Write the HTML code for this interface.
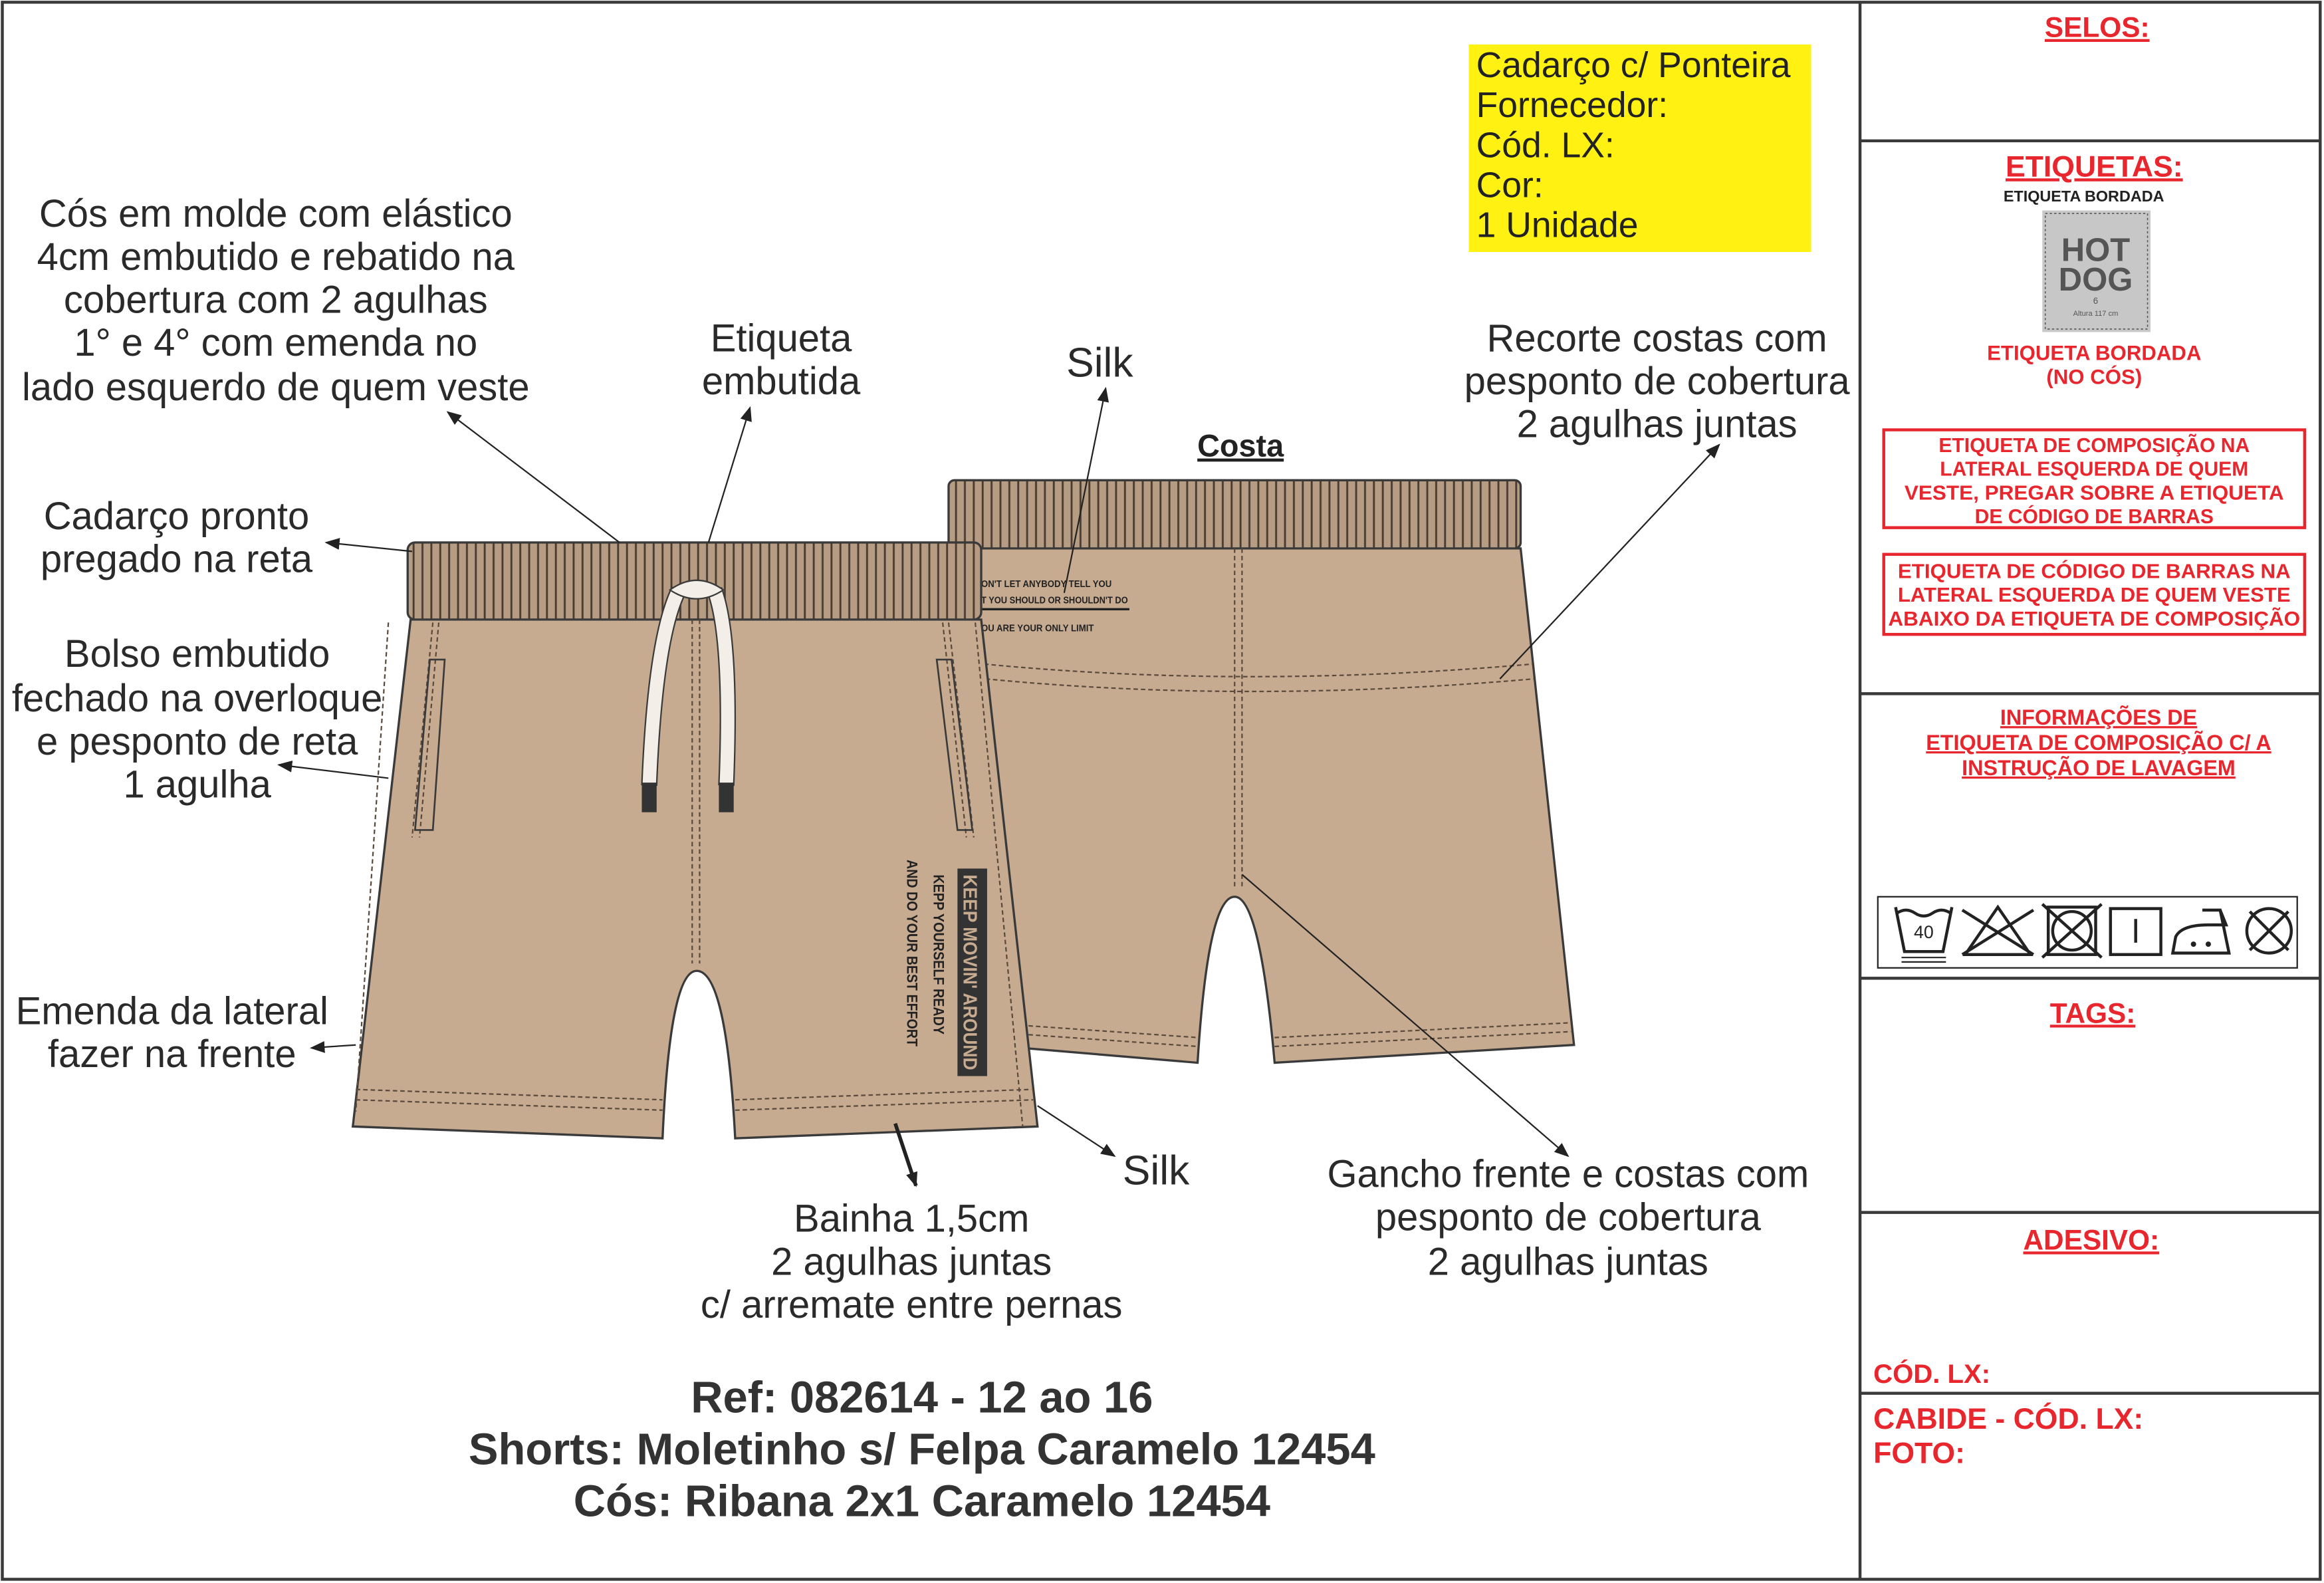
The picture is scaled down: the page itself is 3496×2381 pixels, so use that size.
<!DOCTYPE html>
<html><head><meta charset="utf-8"><style>
html,body{margin:0;padding:0;background:#fff;}
svg{display:block;}
text{font-family:"Liberation Sans",sans-serif;}
.t{font-size:26px;fill:#2a2a2a;text-anchor:middle;}
.r{fill:#e8262d;font-weight:bold;text-anchor:middle;}
.rb{fill:#e8262d;font-weight:bold;}
</style></head><body>
<svg width="3496" height="2381" viewBox="0 0 1568 1068" xmlns="http://www.w3.org/2000/svg">
<defs>
<marker id="a" markerWidth="10" markerHeight="10" refX="9" refY="5" orient="auto" markerUnits="userSpaceOnUse"><path d="M0,1 L10,5 L0,9 Z" fill="#222"/></marker>
<pattern id="rib" width="6" height="60" patternUnits="userSpaceOnUse"><rect width="6" height="60" fill="#b59c83"/><line x1="3" y1="0" x2="3" y2="60" stroke="#4a3c30" stroke-width="1.3"/></pattern>
</defs>
<rect x="0" y="0" width="1568" height="1068" fill="#fff"/>
<rect x="1.5" y="1.5" width="1564" height="1064" fill="none" stroke="#3a3a3a" stroke-width="2"/>
<line x1="1255" y1="1" x2="1255" y2="1066" stroke="#3a3a3a" stroke-width="2"/>
<g stroke="#3a3a3a" stroke-width="2">
<line x1="1255" y1="95" x2="1566" y2="95"/><line x1="1255" y1="468" x2="1566" y2="468"/>
<line x1="1255" y1="660" x2="1566" y2="660"/><line x1="1255" y1="818" x2="1566" y2="818"/>
<line x1="1255" y1="940" x2="1566" y2="940"/></g>

<!-- right panel -->
<text x="1415" y="25" class="r" font-size="19" text-decoration="underline">SELOS:</text>
<text x="1413" y="119" class="r" font-size="20" text-decoration="underline">ETIQUETAS:</text>
<text x="1406" y="136" font-size="10.5" fill="#222" text-anchor="middle" font-weight="bold">ETIQUETA BORDADA</text>
<rect x="1378" y="142" width="73" height="82" fill="#c7c7c7"/>
<rect x="1380" y="144" width="69" height="78" fill="none" stroke="#555" stroke-dasharray="1.5,1.5" stroke-width="0.7"/>
<text x="1414" y="176" font-size="22" font-weight="bold" fill="#555" text-anchor="middle" font-family="Liberation Serif">HOT</text>
<text x="1414" y="196" font-size="22" font-weight="bold" fill="#555" text-anchor="middle" font-family="Liberation Serif">DOG</text>
<text x="1414" y="205" font-size="6" fill="#555" text-anchor="middle">6</text>
<text x="1414" y="213" font-size="5" fill="#555" text-anchor="middle">Altura 117 cm</text>
<text x="1413" y="243" class="r" font-size="14">ETIQUETA BORDADA</text>
<text x="1413" y="259" class="r" font-size="14">(NO CÓS)</text>
<rect x="1271" y="290" width="284" height="66" fill="none" stroke="#e8262d" stroke-width="2"/>
<g class="r" font-size="13.5"><text x="1413" y="305">ETIQUETA DE COMPOSIÇÃO NA</text><text x="1413" y="321">LATERAL ESQUERDA DE QUEM</text><text x="1413" y="337" textLength="256" lengthAdjust="spacingAndGlyphs">VESTE, PREGAR SOBRE A ETIQUETA</text><text x="1413" y="353">DE CÓDIGO DE BARRAS</text></g>
<rect x="1271" y="374" width="284" height="54" fill="none" stroke="#e8262d" stroke-width="2"/>
<g class="r" font-size="13.5"><text x="1413" y="390" textLength="265" lengthAdjust="spacingAndGlyphs">ETIQUETA DE CÓDIGO DE BARRAS NA</text><text x="1413" y="406" textLength="265" lengthAdjust="spacingAndGlyphs">LATERAL ESQUERDA DE QUEM VESTE</text><text x="1413" y="422" textLength="278" lengthAdjust="spacingAndGlyphs">ABAIXO DA ETIQUETA DE COMPOSIÇÃO</text></g>
<g class="r" font-size="14.5" text-decoration="underline"><text x="1416" y="489">INFORMAÇÕES DE</text><text x="1416" y="506">ETIQUETA DE COMPOSIÇÃO C/ A</text><text x="1416" y="523">INSTRUÇÃO DE LAVAGEM</text></g>
<rect x="1267" y="605" width="283" height="48" fill="none" stroke="#222" stroke-width="1"/>
<g stroke="#222" stroke-width="2" fill="none">
<path d="M1279,612 L1285,642 L1311,642 L1317,612"/><path d="M1280,616 q6,-4 12,0 q6,4 12,0 q6,-4 12,0"/><text x="1298" y="633" font-size="12" fill="#222" stroke="none" text-anchor="middle">40</text>
<line x1="1283" y1="646" x2="1313" y2="646" stroke-width="1"/><line x1="1283" y1="649" x2="1313" y2="649" stroke-width="1"/>
<path d="M1326,644 L1348,612 L1370,644 Z"/><line x1="1324" y1="614" x2="1372" y2="644"/><line x1="1324" y1="644" x2="1372" y2="614"/>
<rect x="1382" y="612" width="32" height="32"/><circle cx="1398" cy="628" r="13"/><line x1="1378" y1="610" x2="1418" y2="646"/><line x1="1378" y1="646" x2="1418" y2="610"/>
<rect x="1424" y="613" width="34" height="31"/><line x1="1441" y1="620" x2="1441" y2="636"/>
<path d="M1466,643 L1468,632 Q1472,624 1490,624 L1502,624 L1498,614 L1486,614 L1498,614 L1504,643 Z"/>
<circle cx="1531" cy="628" r="15"/><line x1="1518" y1="615" x2="1544" y2="641"/><line x1="1518" y1="641" x2="1544" y2="615"/>
</g>
<circle cx="1480" cy="637" r="1.8" fill="#222"/><circle cx="1490" cy="637" r="1.8" fill="#222"/>
<text x="1412" y="690" class="r" font-size="19" text-decoration="underline">TAGS:</text>
<text x="1411" y="843" class="r" font-size="19" text-decoration="underline">ADESIVO:</text>
<text x="1264" y="933" class="rb" font-size="18">CÓD. LX:</text>
<text x="1264" y="964" class="rb" font-size="20">CABIDE - CÓD. LX:</text>
<text x="1264" y="987" class="rb" font-size="20">FOTO:</text>

<!-- yellow box -->
<rect x="991" y="30" width="231" height="140" fill="#fff212"/>
<g font-size="24" fill="#222"><text x="996" y="52">Cadarço c/ Ponteira</text><text x="996" y="79">Fornecedor:</text><text x="996" y="106">Cód. LX:</text><text x="996" y="133">Cor:</text><text x="996" y="160">1 Unidade</text></g>

<!-- back shorts -->
<path d="M642,370 L1026,370 L1062,705 L860,717 Q850,605 833,605 Q815,605 808,717 L666,705 Z" fill="#c6ab91" stroke="#3a3a3a" stroke-width="1.5"/>
<rect x="640" y="324" width="386" height="46" rx="4" fill="url(#rib)" stroke="#3a3a3a" stroke-width="1.5"/>
<g stroke="#5a4a3c" fill="none" stroke-width="1" stroke-dasharray="3,2">
<path d="M664,448 Q840,465 1034,448"/><path d="M665,458 Q840,475 1035,458"/>
<line x1="833" y1="370" x2="833" y2="600"/><line x1="838" y1="370" x2="838" y2="600"/>
<path d="M664,690 L808,700"/><path d="M664,696 L808,706"/><path d="M860,700 L1060,690"/><path d="M860,706 L1060,696"/>
</g>
<g font-size="6.5" font-weight="bold" fill="#222"><text x="662" y="396" textLength="88" lengthAdjust="spacingAndGlyphs">ON'T LET ANYBODY TELL YOU</text><text x="662" y="407" textLength="99" lengthAdjust="spacingAndGlyphs">T YOU SHOULD OR SHOULDN'T DO</text><text x="662" y="426" textLength="76" lengthAdjust="spacingAndGlyphs">OU ARE YOUR ONLY LIMIT</text></g>
<line x1="662" y1="411" x2="762" y2="411" stroke="#222" stroke-width="1.5"/>
<text x="837" y="308" font-size="21" font-weight="bold" fill="#222" text-anchor="middle" text-decoration="underline">Costa</text>

<!-- front shorts -->
<path d="M277,418 L662,418 L700,760 L496,768 Q490,655 470,655 Q452,655 447,768 L238,760 Z" fill="#c6ab91" stroke="#3a3a3a" stroke-width="1.5"/>
<rect x="275" y="366" width="387" height="52" rx="5" fill="url(#rib)" stroke="#3a3a3a" stroke-width="1.5"/>
<g stroke="#5a4a3c" fill="none" stroke-width="1" stroke-dasharray="3,2">
<path d="M262,420 L240,750"/>
<path d="M292,420 L278,565"/><path d="M296,420 L283,565"/>
<path d="M658,420 L690,760"/>
<path d="M640,420 L657,565"/><path d="M636,420 L652,565"/>
<line x1="467" y1="418" x2="467" y2="650"/><line x1="472" y1="418" x2="472" y2="650"/>
<path d="M240,735 L447,742"/><path d="M240,742 L447,749"/><path d="M496,742 L696,735"/><path d="M496,749 L697,742"/>
</g>
<g stroke="#3a3a3a" fill="none" stroke-width="1.2"><path d="M290,445 L300,445 L292,560 L280,560 Z"/><path d="M632,445 L642,445 L656,560 L646,560 Z"/></g>
<path d="M458,398 Q442,430 438,530 M482,398 Q494,430 490,530" stroke="#3a3a3a" stroke-width="11" fill="none"/>
<path d="M458,398 Q442,430 438,530 M482,398 Q494,430 490,530" stroke="#f3efe8" stroke-width="9" fill="none"/>
<path d="M452,398 Q470,385 488,398 Q470,410 452,398 Z" fill="#f3efe8" stroke="#3a3a3a"/>
<rect x="433" y="528" width="10" height="20" fill="#333"/><rect x="485" y="528" width="10" height="20" fill="#333"/>
<g transform="translate(650,588) rotate(90)">
<rect x="-2" y="-16" width="140" height="20" fill="#333"/>
<text x="2" y="0" font-size="13" font-weight="bold" fill="#c6ab91" textLength="132" lengthAdjust="spacingAndGlyphs">KEEP MOVIN' AROUND</text>
<text x="2" y="20" font-size="10" font-weight="bold" fill="#222" textLength="108" lengthAdjust="spacingAndGlyphs">KEPP YOURSELF READY</text>
<text x="-8" y="38" font-size="10" font-weight="bold" fill="#222" textLength="126" lengthAdjust="spacingAndGlyphs">AND DO YOUR BEST EFFORT</text>
</g>

<!-- leader lines -->
<g stroke="#222" stroke-width="1" marker-end="url(#a)">
<line x1="418" y1="366" x2="302" y2="278"/>
<line x1="478" y1="366" x2="506" y2="275"/>
<line x1="718" y1="400" x2="746" y2="262"/>
<line x1="278" y1="372" x2="220" y2="366"/>
<line x1="262" y1="525" x2="188" y2="516"/>
<line x1="240" y1="705" x2="210" y2="707"/>
<line x1="700" y1="746" x2="752" y2="780"/>
<line x1="604" y1="758" x2="618" y2="800" stroke-width="2.5"/>
<line x1="1012" y1="458" x2="1160" y2="300"/>
<line x1="838" y1="590" x2="1058" y2="780"/>
</g>

<!-- labels -->
<g class="t">
<text x="186" y="153">Cós em molde com elástico</text><text x="186" y="182">4cm embutido e rebatido na</text><text x="186" y="211">cobertura com 2 agulhas</text><text x="186" y="240">1° e 4° com emenda no</text><text x="186" y="270">lado esquerdo de quem veste</text>
<text x="527" y="237">Etiqueta</text><text x="527" y="266">embutida</text>
<text x="742" y="254" font-size="28">Silk</text>
<text x="1118" y="237">Recorte costas com</text><text x="1118" y="266">pesponto de cobertura</text><text x="1118" y="295">2 agulhas juntas</text>
<text x="119" y="357">Cadarço pronto</text><text x="119" y="386">pregado na reta</text>
<text x="133" y="450">Bolso embutido</text><text x="133" y="480">fechado na overloque</text><text x="133" y="509">e pesponto de reta</text><text x="133" y="538">1 agulha</text>
<text x="116" y="691">Emenda da lateral</text><text x="116" y="720">fazer na frente</text>
<text x="780" y="799" font-size="28">Silk</text>
<text x="615" y="831">Bainha 1,5cm</text><text x="615" y="860">2 agulhas juntas</text><text x="615" y="889">c/ arremate entre pernas</text>
<text x="1058" y="801">Gancho frente e costas com</text><text x="1058" y="830">pesponto de cobertura</text><text x="1058" y="860">2 agulhas juntas</text>
</g>
<g font-size="30" font-weight="bold" fill="#333" text-anchor="middle">
<text x="622" y="953">Ref: 082614 - 12 ao 16</text>
<text x="622" y="988">Shorts: Moletinho s/ Felpa Caramelo 12454</text>
<text x="622" y="1023">Cós: Ribana 2x1 Caramelo 12454</text>
</g>
</svg>
</body></html>
